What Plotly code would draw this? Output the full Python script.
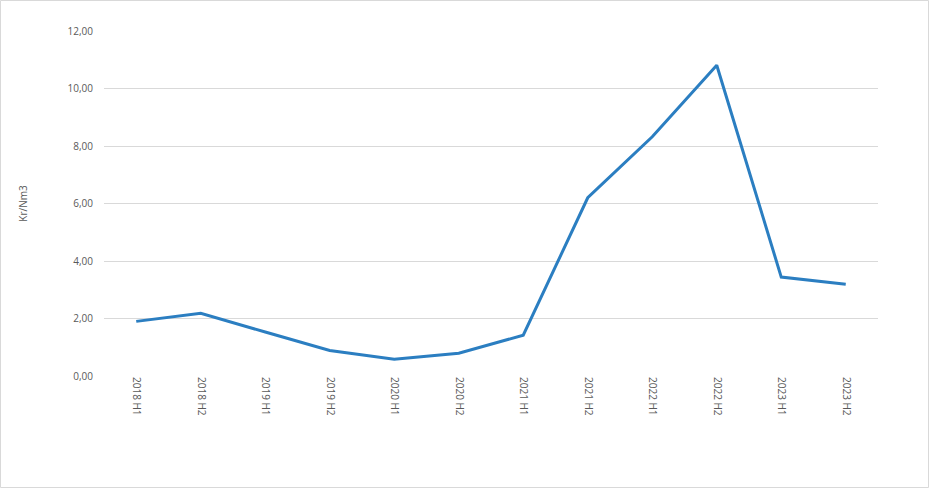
import plotly.graph_objects as go

categories = ["2018 H1", "2018 H2", "2019 H1", "2019 H2", "2020 H1", "2020 H2",
              "2021 H1", "2021 H2", "2022 H1", "2022 H2", "2023 H1", "2023 H2"]
values = [1.90, 2.18, 1.53, 0.89, 0.58, 0.79, 1.42, 6.20, 8.32, 10.81, 3.44, 3.19]
y_ticks = [0, 2, 4, 6, 8, 10, 12]

W, H = 930, 489
L, R, T, B = 104, 52, 31, 113

fig = go.Figure()
fig.add_trace(go.Scatter(
    x=categories, y=values, mode="lines",
    line=dict(color="#2B7EC1", width=3),
    hoverinfo="x+y",
))

pw = W - L - R
ph = H - T - B
fig.add_shape(type="rect", xref="paper", yref="paper",
              x0=-(L - 0.5) / pw, x1=1 + (R - 1.5) / pw,
              y0=-(B - 1.5) / ph, y1=1 + (T - 0.5) / ph,
              line=dict(color="#D9D9D9", width=1), fillcolor="rgba(0,0,0,0)", layer="below")

fig.update_layout(
    width=W, height=H,
    margin=dict(l=L, r=R, t=T, b=B, pad=0),
    paper_bgcolor="white", plot_bgcolor="white",
    separators=",.",
    showlegend=False,
    font=dict(family="Open Sans, Liberation Sans, sans-serif", color="#595959", size=10),
    xaxis=dict(
        type="category", tickangle=90, showgrid=False, zeroline=False,
        showline=False, ticks="", tickfont=dict(size=10, color="#595959"),
        range=[-0.5, len(categories) - 0.5],
    ),
    yaxis=dict(
        range=[0, 12], tickvals=y_ticks, tickformat=".2f",
        showgrid=True, gridcolor="#D9D9D9", gridwidth=1,
        zeroline=False, showline=False, ticks="",
        ticklabelstandoff=10,
        tickfont=dict(size=10, color="#595959"),
        title=dict(text="Kr/Nm3", font=dict(size=10, color="#595959"), standoff=38),
    ),
)

fig.write_html("out.html", config={"displayModeBar": False},
               post_script="document.body.style.margin='0px';document.body.style.overflow='hidden';")
